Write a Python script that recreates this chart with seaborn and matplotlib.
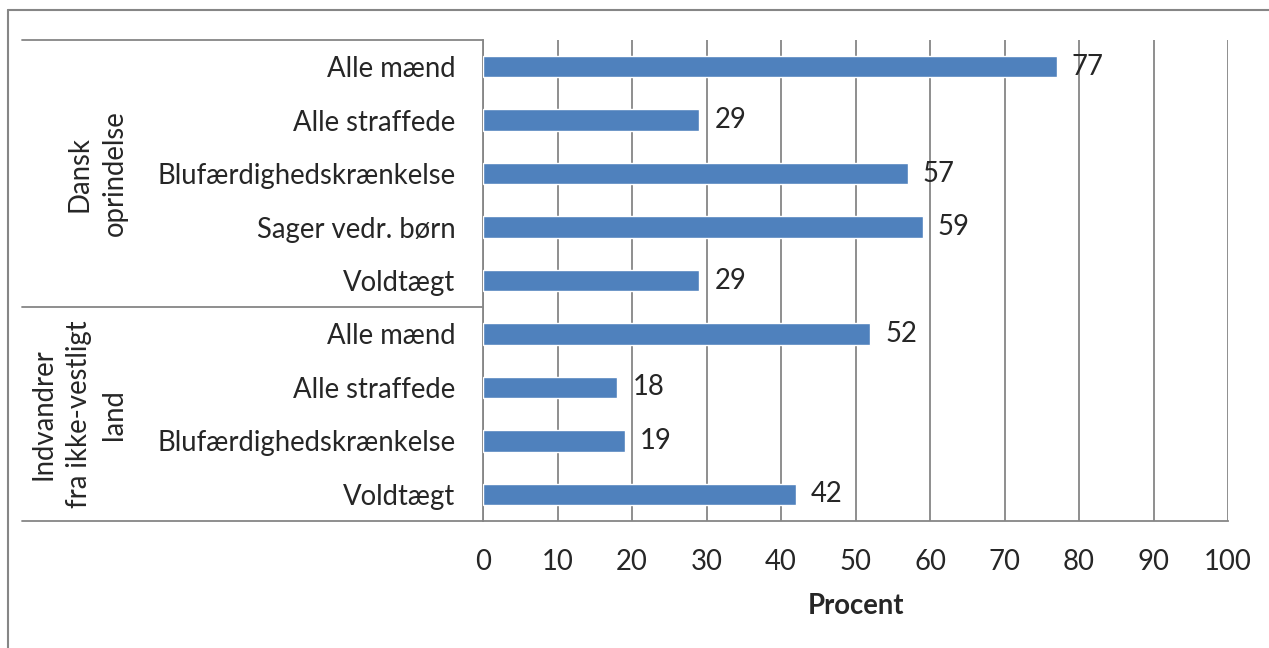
import matplotlib
matplotlib.use("Agg")
import matplotlib.pyplot as plt
import matplotlib.transforms as mtransforms
from matplotlib.lines import Line2D
import seaborn as sns
import pandas as pd

# ---- data ----
groups = ["Dansk\noprindelse"] * 5 + ["Indvandrer\nfra ikke-vestligt\nland"] * 4
categories = ["Alle mænd", "Alle straffede", "Blufærdighedskrænkelse", "Sager vedr. børn", "Voldtægt",
              "Alle mænd", "Alle straffede", "Blufærdighedskrænkelse", "Voldtægt"]
values = [77, 29, 57, 59, 29, 52, 18, 19, 42]
xticks = [0, 10, 20, 30, 40, 50, 60, 70, 80, 90, 100]
xlabel = "Procent"

sns.set_theme(style="white")
plt.rcParams["font.family"] = ["Lato", "DejaVu Sans"]
FS = 19.8
GRAY = "#868686"
BAR = "#4F81BD"

df = pd.DataFrame({"key": [f"{g}|{c}" for g, c in zip(groups, categories)],
                   "cat": categories, "grp": groups, "val": values})

fig = plt.figure(figsize=(12.69, 6.48), dpi=100)
ax = fig.add_axes([483 / 1269, 1 - 521 / 648, (1228 - 483) / 1269, (521 - 40) / 648])

sns.barplot(data=df, x="val", y="key", order=list(df["key"]), orient="h",
            color=BAR, saturation=1, width=0.4, ax=ax, zorder=3)

ax.set_xlim(0, 100)
ax.set_ylim(len(df) - 0.5, -0.5)
ax.set_xticks(xticks)
ax.set_xticklabels([str(t) for t in xticks], fontsize=FS)
ax.set_yticks(range(len(df)))
ax.set_yticklabels(categories, fontsize=FS)
ax.tick_params(axis="y", length=0, pad=20)
ax.tick_params(axis="x", length=0, pad=20)
ax.set_ylabel("")
ax.set_xlabel(xlabel, fontsize=FS, fontweight="bold", labelpad=13)

ax.grid(axis="x", color=GRAY, lw=1.3, zorder=0)
ax.grid(axis="y", visible=False)
for s in ["top", "right"]:
    ax.spines[s].set_visible(False)
for s in ["left", "bottom"]:
    ax.spines[s].set_color(GRAY)
    ax.spines[s].set_linewidth(1.3)

ax.bar_label(ax.containers[0], labels=[str(v) for v in values], padding=11, fontsize=FS)

# category table lines
trans = mtransforms.blended_transform_factory(ax.transAxes, ax.transData)
xl = (22 - 483) / (1228 - 483)
n1 = groups.count(groups[0])
for yv, xr in [(-0.5, 0), (n1 - 0.5, 0), (len(df) - 0.5, 0)]:
    ax.add_line(Line2D([xl, xr], [yv, yv], transform=trans, color=GRAY, lw=1.3, clip_on=False))

# group labels
uniq = list(dict.fromkeys(groups))
gx = {uniq[0]: (97 - 483) / 745, uniq[1]: (79 - 483) / 745}
for g in uniq:
    idx = [i for i, gg in enumerate(groups) if gg == g]
    yc = (idx[0] + idx[-1]) / 2
    ax.text(gx[g], yc, g, transform=trans, rotation=90, ha="center", va="center",
            multialignment="center", fontsize=FS, linespacing=1.45)

# outer frame
fig.add_artist(Line2D([8 / 1269, 1.0], [1 - 10 / 648, 1 - 10 / 648], color=GRAY, lw=1.5))
fig.add_artist(Line2D([8 / 1269, 8 / 1269], [0, 1 - 10 / 648], color=GRAY, lw=1.5))

fig.savefig("out.png", dpi=100)
